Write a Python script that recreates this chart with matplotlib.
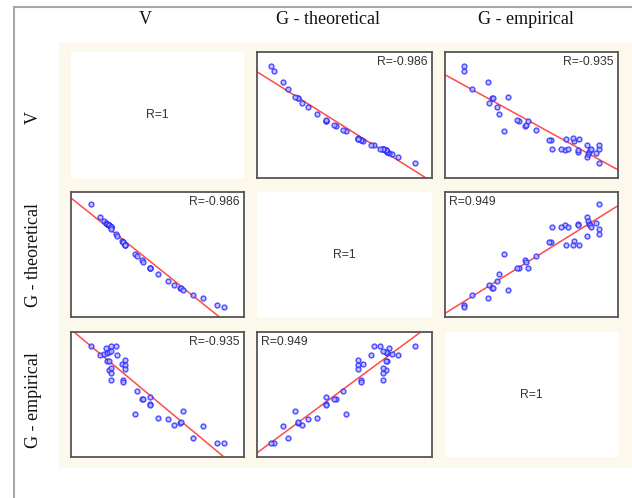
import matplotlib
matplotlib.use("Agg")
import matplotlib.pyplot as plt
import numpy as np
from matplotlib.lines import Line2D
from matplotlib.patches import Rectangle

# data (arbitrary units)
V = [11.8, 16.9, 19.0, 20.0, 21.0, 21.0, 22.0, 22.0, 22.0, 23.0, 23.0, 23.0,
     23.0, 23.0, 26.0, 26.5, 29.5, 30.0, 30.0, 31.0, 31.5, 31.0, 37.1, 38.1,
     41.3, 41.9, 45.6, 45.6, 45.8, 50.4, 56.2, 59.8, 63.1, 63.5, 64.6, 70.4,
     76.2, 84.6, 88.5]
G_theo = [90.5, 80.4, 77.2, 75.6, 74.5, 74.5, 73.5, 73.5, 73.5, 71.9, 71.9, 71.9,
          71.9, 70.3, 66.6, 65.0, 60.7, 59.7, 59.7, 57.6, 57.6, 57.6, 50.7, 49.1,
          45.4, 43.8, 39.5, 39.5, 39.5, 34.2, 29.2, 25.5, 23.3, 23.3, 21.8, 17.5,
          14.9, 9.5, 8.2]
G_emp = [89.1, 81.9, 82.7, 87.5, 76.9, 83.5, 84.0, 69.4, 76.9, 84.6, 67.3, 71.3,
         62.0, 89.1, 89.1, 81.9, 74.5, 61.4, 60.4, 77.4, 73.7, 70.2, 34.3, 52.7,
         46.5, 46.8, 47.9, 42.8, 41.5, 31.4, 30.1, 25.5, 27.4, 27.9, 36.7, 15.4,
         24.7, 11.2, 11.2]

names = ["V", "G - theoretical", "G - empirical"]
r_text = [["R=1", "R=-0.986", "R=-0.935"],
          ["R=-0.986", "R=1", "R=0.949"],
          ["R=-0.935", "R=0.949", "R=1"]]

W, H = 632, 498
fig = plt.figure(figsize=(W / 100, H / 100), dpi=100)
fig.patch.set_facecolor("white")

def px_rect(x0, y0, x1, y1):
    return [x0 / W, 1 - y1 / H, (x1 - x0) / W, (y1 - y0) / H]

# outer grey frame (top and left edges only visible)
fig.add_artist(Line2D([14 / W, 1.0], [1 - 7 / H, 1 - 7 / H], color="#a8a8a8", lw=1.5))
fig.add_artist(Line2D([14 / W, 14 / W], [0, 1 - 7 / H], color="#a8a8a8", lw=1.5))

# cream background behind the panels
r = px_rect(59, 42, 632, 468)
fig.add_artist(Rectangle((r[0], r[1]), r[2], r[3], transform=fig.transFigure,
                         facecolor="#fdf8ec", edgecolor="none", zorder=0))

cols_px = [(71, 244), (257, 432), (445, 618)]
rows_px = [(52, 178), (192, 317), (332, 457)]
data = [V, G_theo, G_emp]

for i in range(3):
    for j in range(3):
        ax = fig.add_axes(px_rect(cols_px[j][0], rows_px[i][0], cols_px[j][1], rows_px[i][1]))
        ax.set_xticks([])
        ax.set_yticks([])
        ax.set_xlim(0, 100)
        ax.set_ylim(0, 100)
        if i == j:
            for s in ax.spines.values():
                s.set_visible(False)
            ax.text(0.5, 0.5, r_text[i][j], transform=ax.transAxes, ha="center",
                    va="center", fontsize=8.8, family="Liberation Sans", color="#333333")
            continue
        for s in ax.spines.values():
            s.set_color("#555555")
            s.set_linewidth(1.3)
        x = np.array(data[j])
        y = np.array(data[i])
        k, b = np.polyfit(x, y, 1)
        xx = np.array([0, 100])
        ax.plot(xx, k * xx + b, color="#ff4a4a", lw=1.1, zorder=2)
        ax.plot(x, y, "o", ms=3.5, mfc="#b4b4ff", mec="#2828ff", mew=1.0, alpha=0.8, zorder=3)
        if r_text[i][j].startswith("R=-"):
            ax.text(0.972, 0.965, r_text[i][j], transform=ax.transAxes, ha="right",
                    va="top", fontsize=8.8, family="Liberation Sans", color="#333333")
        else:
            ax.text(0.025, 0.965, r_text[i][j], transform=ax.transAxes, ha="left",
                    va="top", fontsize=8.8, family="Liberation Sans", color="#333333")

# column headers and row labels
head_x = [145, 328, 526]
for name, hx in zip(names, head_x):
    fig.text(hx / W, 1 - 19 / H, name, ha="center", va="center", fontsize=13,
             family="Liberation Serif", color="#111111")
label_y = [117, 255, 400]
for name, ly in zip(names, label_y):
    fig.text(33 / W, 1 - ly / H, name, ha="center", va="center", rotation=90,
             fontsize=13, family="Liberation Serif", color="#111111")

fig.savefig("out.png", dpi=100)
